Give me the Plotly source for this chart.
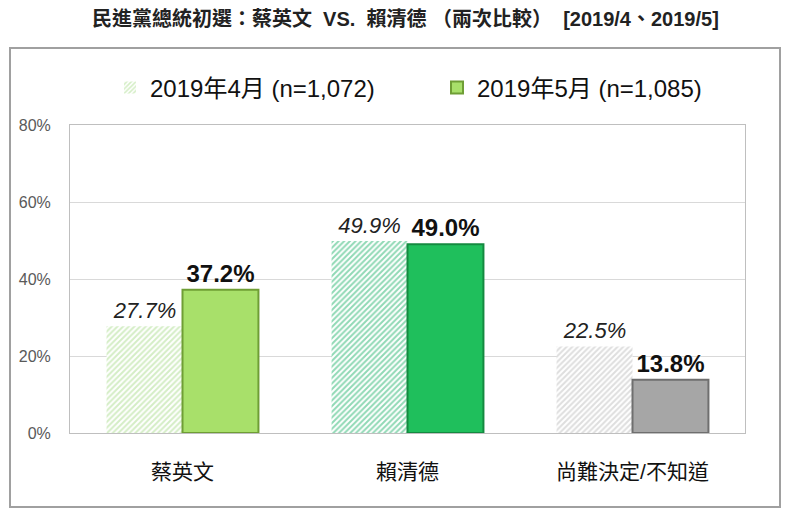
import plotly.graph_objects as go

categories = ["蔡英文", "賴清德", "尚難決定/不知道"]
apr_values = [27.7, 49.9, 22.5]
may_values = [37.2, 49.0, 13.8]
apr_name = "2019年4月 (n=1,072)"
may_name = "2019年5月 (n=1,085)"
title_text = "民進黨總統初選：蔡英文  VS.  賴清德 （兩次比較）  [2019/4、2019/5]"
y_ticks = [0, 20, 40, 60, 80]
y_ticklabels = ["0%", "20%", "40%", "60%", "80%"]

apr_fg = ["#a9dc8c", "#22b36c", "#bdbdbd"]
may_colors = ["#a8e06a", "#1fbf5c", "#a6a6a6"]
may_lines = ["#6f9e35", "#148a40", "#6f6f6f"]

FONT = "Liberation Sans, Noto Sans CJK TC, sans-serif"

# page offset (body margin) compensation
OFF = 8
PL, PR, PT, PB = 70, 745, 125, 433  # plot area in page pixels
PW, PH = PR - PL, PB - PT

def px(x):
    return (x - PL) / PW

def py(y):
    return (PB - y) / PH

fig = go.Figure()
fig.add_trace(go.Bar(
    x=categories, y=apr_values, name=apr_name, legend="legend",
    marker=dict(color="white",
                pattern=dict(shape="/", fgcolor=apr_fg, bgcolor="white", size=4, solidity=0.5, fillmode="overlay"),
                line=dict(width=0)),
    text=[f"{v:.1f}%" for v in apr_values], textposition="outside",
    textfont=dict(size=22, color="#222222", family=FONT, style="italic"),
    cliponaxis=False,
))
fig.add_trace(go.Bar(
    x=categories, y=may_values, name=may_name, legend="legend2",
    marker=dict(color=may_colors, line=dict(color=may_lines, width=2)),
    text=[f"{v:.1f}%" for v in may_values], textposition="outside",
    textfont=dict(size=24, color="#111111", family=FONT, weight="bold"),
    cliponaxis=False,
))

leg_common = dict(orientation="h", yanchor="middle", xanchor="left",
                  font=dict(size=24, color="#111111", family=FONT),
                  bgcolor="rgba(0,0,0,0)", itemsizing="constant")
fig.update_layout(
    width=800, height=514,
    margin=dict(l=PL - OFF, r=800 - (PR - OFF), t=PT - OFF, b=514 - (PB - OFF)),
    paper_bgcolor="white", plot_bgcolor="white",
    barmode="group", bargap=0.325, bargroupgap=0.0,
    font=dict(family=FONT, color="#222222"),
    showlegend=True,
    legend=dict(x=px(110), y=py(88), **leg_common),
    legend2=dict(x=px(437), y=py(88), **leg_common),
)
fig.add_annotation(text="<b>" + title_text + "</b>", xref="paper", yref="paper",
                   x=px(405), y=py(18), xanchor="center", yanchor="middle",
                   showarrow=False, font=dict(size=20, color="#222222", family=FONT))
fig.add_shape(type="rect", xref="paper", yref="paper",
              x0=px(10), x1=px(780), y0=py(507), y1=py(48),
              line=dict(color="#a0a0a0", width=2), fillcolor="rgba(0,0,0,0)", layer="below")

fig.update_xaxes(showline=True, linecolor="#bfbfbf", linewidth=1, mirror=True,
                 tickfont=dict(size=21, color="#111111", family=FONT),
                 ticklabelstandoff=20, showgrid=False)
fig.update_yaxes(range=[0, 80], tickvals=y_ticks, ticktext=y_ticklabels,
                 showline=True, linecolor="#bfbfbf", linewidth=1, mirror=True,
                 gridcolor="#d9d9d9", gridwidth=1, zeroline=False,
                 tickfont=dict(size=16, color="#595959", family=FONT),
                 ticklabelstandoff=15)

fig.write_html("out.html")
